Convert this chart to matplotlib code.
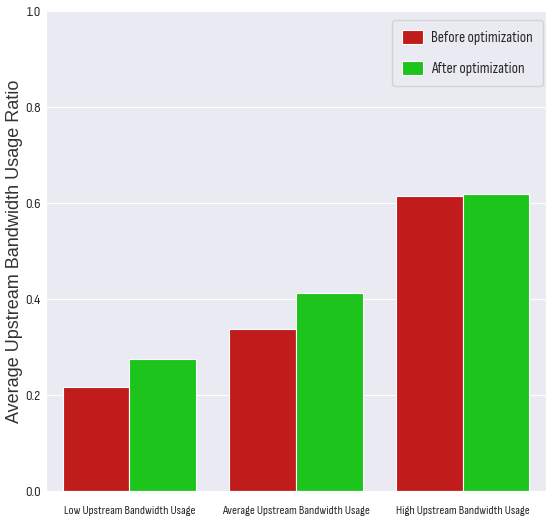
import matplotlib
matplotlib.use("Agg")
import matplotlib.pyplot as plt
import seaborn as sns
import numpy as np
from matplotlib import font_manager

sns.set_style("darkgrid")

# look for a condensed / narrow sans face to mimic the squeezed labels
cond = None
for f in font_manager.fontManager.ttflist:
    nm = f.name.lower()
    st = str(f.stretch).lower()
    if "mono" in nm or "serif" in nm or "sans" not in nm or f.style != "normal":
        continue
    if "semi" in nm or "extra" in nm or "ultra" in nm or "semi" in st or "extra" in st:
        continue
    if "narrow" in nm or "condensed" in nm or st in ("condensed", "75", "62.5"):
        w_ = str(f.weight).lower()
        if cond is None or w_ in ("normal", "regular", "400", "500", "medium"):
            cond = f
if cond is not None:
    xt_fp = font_manager.FontProperties(fname=cond.fname, size=8.8)
    yt_fp = font_manager.FontProperties(fname=cond.fname, size=10.5)
    leg_fp = font_manager.FontProperties(fname=cond.fname, size=11)
else:
    xt_fp = font_manager.FontProperties(family="Liberation Sans", size=8.5)
    yt_fp = font_manager.FontProperties(family="Liberation Sans", size=9.5)
    leg_fp = font_manager.FontProperties(family="Liberation Sans", size=10.5)

categories = ["Low Upstream Bandwidth Usage", "Average Upstream Bandwidth Usage",
              "High Upstream Bandwidth Usage"]
before = [0.217, 0.338, 0.615]
after = [0.275, 0.413, 0.619]

x = np.arange(len(categories))
w = 0.4

fig = plt.figure(figsize=(5.56, 5.25), dpi=100)
ax = fig.add_axes([46 / 556, 34 / 525, 500 / 556, 480 / 525])
ax.bar(x - w / 2, before, w, color="#c01c1c", edgecolor="white", linewidth=0.8,
       label="Before optimization")
ax.bar(x + w / 2, after, w, color="#1cc41c", edgecolor="white", linewidth=0.8,
       label="After optimization")
ax.set_xlim(-0.5, 2.5)
ax.set_ylim(0, 1.0)
ax.set_yticks([0, 0.2, 0.4, 0.6, 0.8, 1.0])
ax.set_xticks(x)
ax.set_xticklabels(categories)
ax.grid(axis="x", visible=False)
for t in ax.get_xticklabels():
    t.set_fontproperties(xt_fp)
    t.set_color("#262626")
for t in ax.get_yticklabels():
    t.set_fontproperties(yt_fp)
    t.set_color("#262626")
ax.tick_params(axis="x", pad=7)
ax.tick_params(axis="y", length=0, pad=4)
ax.set_ylabel("Average Upstream Bandwidth Usage Ratio", fontsize=13,
              fontfamily="Liberation Sans", color="#333333")
ax.yaxis.set_label_coords(-0.046, 0.5)
ax.legend(loc="upper right", bbox_to_anchor=(0.994, 0.981), borderaxespad=0,
          prop=leg_fp, frameon=True, borderpad=0.65, handlelength=1.35,
          handleheight=1.0, handletextpad=0.55, labelspacing=1.05)
plt.savefig("out.png")
